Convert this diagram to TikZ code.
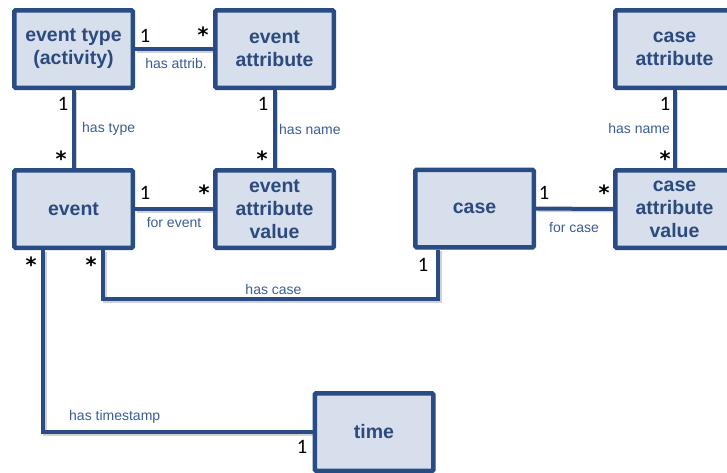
\documentclass[tikz,border=0pt]{standalone}
\usepackage{fontspec}
\setmainfont{Liberation Sans}
\newfontfamily\multfont{Carlito}
\newfontfamily\starfont{DejaVu Sans}
\usetikzlibrary{shadows}
\pgfdeclarelayer{background}
\pgfsetlayers{background,main}
\definecolor{umlborder}{HTML}{2A4C84}
\definecolor{umlfill}{HTML}{D6DFEB}
\definecolor{umltext}{HTML}{2C4A7E}
\definecolor{umllabel}{HTML}{3A5C96}
\begin{document}
\begin{tikzpicture}[x=1pt,y=-1pt,
  entity/.style={draw=umlborder, fill=umlfill, line width=4.5pt, rounded corners=1.2pt,
    minimum width=118.5pt, minimum height=77.5pt, align=center, inner sep=0pt,
    font=\fontsize{19.5}{23}\selectfont\bfseries, text=umltext,
    drop shadow={shadow xshift=2pt, shadow yshift=-2pt, opacity=.3, fill=black!70}},
  link/.style={draw=umlborder, line width=4pt,
    preaction={draw=black, opacity=.18, line width=4pt,
      transform canvas={shift={(1.5pt,-1.5pt)}}}},
  role/.style={font=\fontsize{14}{16}\selectfont, text=umllabel, inner sep=0pt},
  mult/.style={font=\multfont\fontsize{20.5}{22}\selectfont, inner sep=0pt},
  many/.style={font=\starfont\bfseries\fontsize{21}{22}\selectfont, inner sep=0pt}]
\useasboundingbox (0,0) rectangle (727,472);
\clip (0,0) rectangle (727,472);

% entities
\node[entity] (evtype)  at (73.5,49)   {event type\\(activity)};
\node[entity] (evattr)  at (274.5,49)  {event\\attribute};
\node[entity] (event)   at (73.5,209)  {event};
\node[entity] (eav)     at (274.5,209) {event\\attribute\\value};
\node[entity] (case)    at (474.5,208.5) {case};
\node[entity] (casattr) at (674.5,49)  {case\\attribute};
\node[entity] (cav)     at (674.5,209) {case\\attribute\\value};
\node[entity] (time)    at (374,432)   {time};

% associations
\coordinate (hcbend) at (103,299);
\begin{pgfonlayer}{background}
\draw[link] (evtype) -- (evattr);
\draw[link] (evtype) -- (event);
\draw[link] (evattr) -- (eav);
\draw[link] (event) -- (eav);
\draw[link] (case) -- (cav);
\draw[link] (casattr) -- (cav);
\draw[link] ([xshift=29.5pt]event.south) -- (hcbend) -| ([xshift=-36.5pt]case.south);
\draw[link] ([xshift=-30.5pt]event.south) |- (time.west);
\end{pgfonlayer}

% association names
\node[role] (l-attrib) at (176,63) {has attrib.};
\node[role, anchor=west] (l-type) at (82,129) {has type};
\node[role, anchor=west] (l-evname) at (279,129) {has name};
\node[role] (l-forev) at (174,222) {for event};
\node[role] (l-forcase) at (574,227) {for case};
\node[role] (l-case) at (273.5,289) {has case};
\node[role, anchor=west] (l-ts) at (69,417) {has timestamp};
\node[role, anchor=east] (l-casname) at (670,128) {has name};

% multiplicities
\node[mult] (m1) at (145,36) {1};
\node[many] (m2) at (203,35) {*};
\node[mult] (m3) at (63,104) {1};
\node[many] (m4) at (61,159) {*};
\node[mult] (m5) at (263,104) {1};
\node[many] (m6) at (262,159) {*};
\node[mult] (m7) at (145,193) {1};
\node[many] (m8) at (204,193) {*};
\node[many] (m9) at (31,265) {*};
\node[many] (m10) at (91,265) {*};
\node[mult] (m11) at (423,265) {1};
\node[mult] (m12) at (665,104) {1};
\node[many] (m13) at (665,159) {*};
\node[mult] (m14) at (544,193) {1};
\node[many] (m15) at (604,193) {*};
\node[mult] (m16) at (302,447) {1};
\end{tikzpicture}
\end{document}
